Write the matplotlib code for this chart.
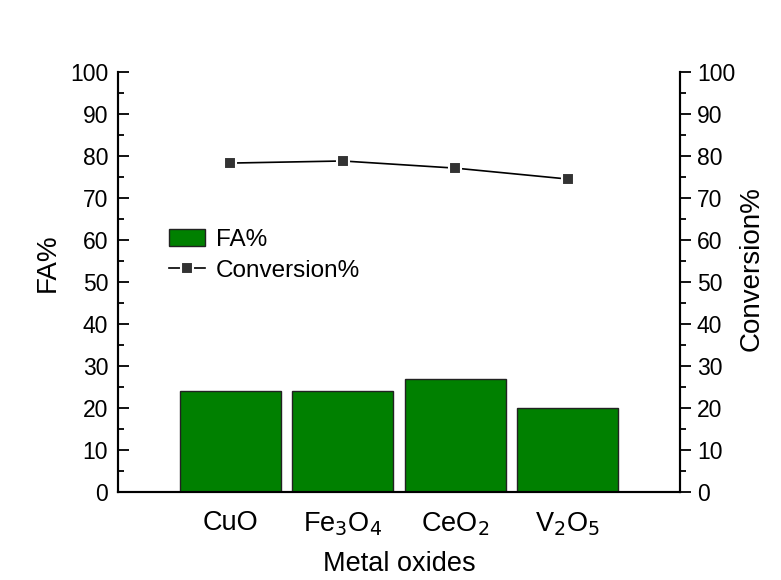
import matplotlib.pyplot as plt
from matplotlib.ticker import MultipleLocator

plt.rcParams['font.family'] = ['Liberation Sans', 'DejaVu Sans']

oxides = ["CuO", "Fe$_3$O$_4$", "CeO$_2$", "V$_2$O$_5$"]
fa = [24.1, 24.1, 26.8, 20.1]
conversion = [78.3, 78.8, 77.1, 74.5]
pos = [1, 2, 3, 4]

fig = plt.figure(figsize=(7.81, 5.8), dpi=100)
ax = fig.add_axes([0.151, 0.1517, 0.720, 0.7243])
ax2 = ax.twinx()

bars = ax.bar(pos, fa, width=0.9, color="#008000", edgecolor="#222222", linewidth=1, label="FA%")
line, = ax2.plot(pos, conversion, color="black", linewidth=1.2, marker="s", markersize=8,
                 markerfacecolor="#333333", markeredgecolor="white", markeredgewidth=1.5,
                 label="Conversion%")

for a in (ax, ax2):
    a.set_ylim(0, 100)
    a.set_xlim(0, 5)
    a.spines['top'].set_visible(False)
    a.yaxis.set_major_locator(MultipleLocator(10))
    a.yaxis.set_minor_locator(MultipleLocator(5))
    for s in a.spines.values():
        s.set_linewidth(1.5)

# left axis: ticks point inward, right axis: ticks point outward
ax.tick_params(axis='y', which='major', direction='in', length=8, width=1.3, labelsize=16.5, pad=7)
ax.tick_params(axis='y', which='minor', direction='in', length=4.5, width=1.3)
ax2.tick_params(axis='y', which='major', direction='out', length=8, width=1.3, labelsize=16.5, pad=4)
ax2.tick_params(axis='y', which='minor', direction='out', length=4.5, width=1.3)

ax.set_xticks(pos)
ax.set_xticklabels(oxides)
ax.tick_params(axis='x', length=0, labelsize=19.5, pad=13)
ax.set_xlabel("Metal oxides", fontsize=19.5, labelpad=10)
ax.set_ylabel("FA%", fontsize=20)
ax2.set_ylabel("Conversion%", fontsize=20)
ax.yaxis.set_label_coords(-0.101, 0.545)
ax2.yaxis.set_label_coords(1.103, 0.531)

ax.legend([bars, line], ["FA%", "Conversion%"], loc="upper left", bbox_to_anchor=(0.07, 0.655),
          frameon=False, fontsize=17.5, handlelength=1.45, handletextpad=0.45, labelspacing=0.35,
          borderpad=0)

fig.savefig("out.png", dpi=100, facecolor="white")
